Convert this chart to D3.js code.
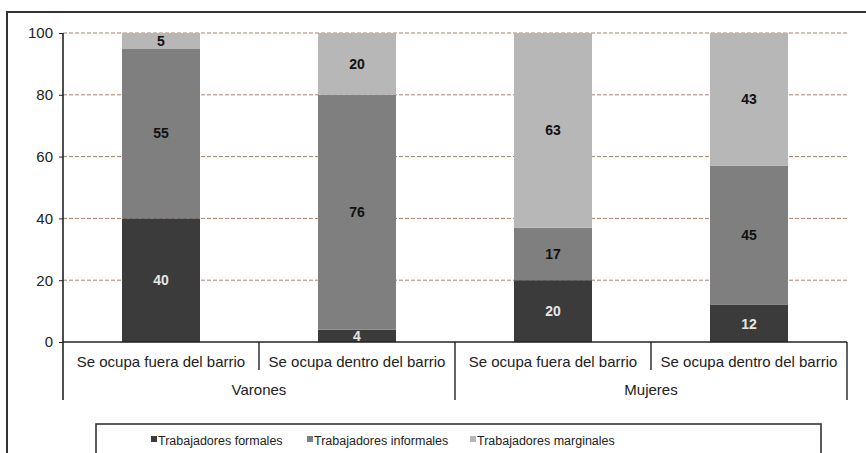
<!DOCTYPE html>
<html>
<head>
<meta charset="utf-8">
<script src="https://cdn.jsdelivr.net/npm/d3@7"></script>
<style>
  body { margin: 0; background: #fff; }
  svg text { font-family: "Liberation Sans", Arial, sans-serif; }
</style>
</head>
<body>
<div id="chart"></div>
<script>
// categories and groups
var categories = ["Se ocupa fuera del barrio", "Se ocupa dentro del barrio",
                  "Se ocupa fuera del barrio", "Se ocupa dentro del barrio"];
var groups = ["Varones", "Mujeres"];
var seriesNames = ["Trabajadores formales", "Trabajadores informales", "Trabajadores marginales"];

// series values, one per category
var formales    = [40, 4, 20, 12];
var informales  = [55, 76, 17, 45];
var marginales  = [5, 20, 63, 43];

var yTicks = [0, 20, 40, 60, 80, 100];

var colors = ["#3b3b3b", "#7f7f7f", "#b7b7b7"];
var labelColors = ["#e6e6e6", "#111", "#111"];

var width = 866, height = 453;
var margin = {top: 33, left: 63, right: 19, bottom: 111};

var svg = d3.select("#chart").append("svg")
    .attr("width", width)
    .attr("height", height);

// outer frame
svg.append("path")
    .attr("d", "M7,460 L7,12 L870,12")
    .attr("fill", "none")
    .attr("stroke", "#333")
    .attr("stroke-width", 2);

var x = d3.scaleBand()
    .domain(d3.range(categories.length))
    .range([margin.left, width - margin.right])
    .paddingInner(0)
    .paddingOuter(0);

var y = d3.scaleLinear()
    .domain([0, 100])
    .range([height - margin.bottom, margin.top]);

// gridlines
svg.append("g")
    .selectAll("line")
    .data(yTicks.filter(function(d) { return d > 0; }))
    .enter().append("line")
    .attr("x1", margin.left)
    .attr("x2", width - margin.right)
    .attr("y1", function(d) { return y(d); })
    .attr("y2", function(d) { return y(d); })
    .attr("stroke", "#a8806e")
    .attr("stroke-width", 1)
    .attr("stroke-dasharray", "4,2");

// stack the data
var rows = categories.map(function(c, i) {
    return {i: i, f: formales[i], inf: informales[i], m: marginales[i]};
});
var stack = d3.stack().keys(["f", "inf", "m"]);
var stacked = stack(rows);

var barW = 78;

var layers = svg.append("g")
    .selectAll("g")
    .data(stacked)
    .enter().append("g")
    .attr("fill", function(d, k) { return colors[k]; });

layers.selectAll("rect")
    .data(function(d) { return d; })
    .enter().append("rect")
    .attr("x", function(d) { return x(d.data.i) + x.bandwidth() / 2 - barW / 2; })
    .attr("width", barW)
    .attr("y", function(d) { return y(d[1]); })
    .attr("height", function(d) { return y(d[0]) - y(d[1]); });

// value labels
stacked.forEach(function(layer, k) {
    svg.append("g")
        .selectAll("text")
        .data(layer)
        .enter().append("text")
        .attr("x", function(d) { return x(d.data.i) + x.bandwidth() / 2; })
        .attr("y", function(d) { return y((d[0] + d[1]) / 2); })
        .attr("dy", "0.36em")
        .attr("text-anchor", "middle")
        .attr("font-size", 14)
        .attr("font-weight", "bold")
        .attr("fill", labelColors[k])
        .text(function(d) { return d[1] - d[0]; });
});

// y axis
var yAxis = svg.append("g")
    .attr("transform", "translate(" + margin.left + ",0)")
    .call(d3.axisLeft(y).tickValues(yTicks).tickSize(4).tickPadding(6));
yAxis.select(".domain").remove();
yAxis.selectAll("line").attr("stroke", "#222");
yAxis.selectAll("text")
    .attr("font-size", 15)
    .attr("fill", "#222")
    .style("font-family", "'Liberation Sans', Arial, sans-serif");

var y0 = y(0);
var axisColor = "#222";

// axis lines
svg.append("line")
    .attr("x1", margin.left).attr("x2", margin.left)
    .attr("y1", y(100)).attr("y2", y0 + 58)
    .attr("stroke", axisColor).attr("stroke-width", 1.6);
svg.append("line")
    .attr("x1", margin.left).attr("x2", width - margin.right)
    .attr("y1", y0).attr("y2", y0)
    .attr("stroke", axisColor).attr("stroke-width", 1.6);

// category dividers
d3.range(1, categories.length + 1).forEach(function(i) {
    var xx = i < categories.length ? x(i) : x.range()[1];
    var long = (i % 2 === 0);
    svg.append("line")
        .attr("x1", xx).attr("x2", xx)
        .attr("y1", y0).attr("y2", y0 + (long ? 58 : 28))
        .attr("stroke", axisColor).attr("stroke-width", 1.4);
});

// category labels
svg.append("g")
    .selectAll("text")
    .data(categories)
    .enter().append("text")
    .attr("x", function(d, i) { return x(i) + x.bandwidth() / 2; })
    .attr("y", y0 + 20)
    .attr("dy", "0.35em")
    .attr("text-anchor", "middle")
    .attr("font-size", 15)
    .attr("fill", "#222")
    .text(function(d) { return d; });

// group labels
svg.append("g")
    .selectAll("text")
    .data(groups)
    .enter().append("text")
    .attr("x", function(d, g) { return x(g * 2 + 1); })
    .attr("y", y0 + 48)
    .attr("dy", "0.35em")
    .attr("text-anchor", "middle")
    .attr("font-size", 15)
    .attr("fill", "#222")
    .text(function(d) { return d; });

// legend
svg.append("rect")
    .attr("x", 96).attr("y", 424)
    .attr("width", 725).attr("height", 40)
    .attr("fill", "none")
    .attr("stroke", "#333")
    .attr("stroke-width", 1.6);

var legendX = [151, 307, 470];
var legend = svg.append("g")
    .selectAll("g")
    .data(seriesNames)
    .enter().append("g")
    .attr("transform", function(d, k) { return "translate(" + legendX[k] + ",441)"; });
legend.append("rect")
    .attr("x", 0).attr("y", -5)
    .attr("width", 6).attr("height", 6)
    .attr("fill", function(d, k) { return colors[k]; });
legend.append("text")
    .attr("x", 7).attr("y", 0)
    .attr("dy", "0.35em")
    .attr("font-size", 12.5)
    .attr("fill", "#222")
    .text(function(d) { return d; });
</script>
</body>
</html>
